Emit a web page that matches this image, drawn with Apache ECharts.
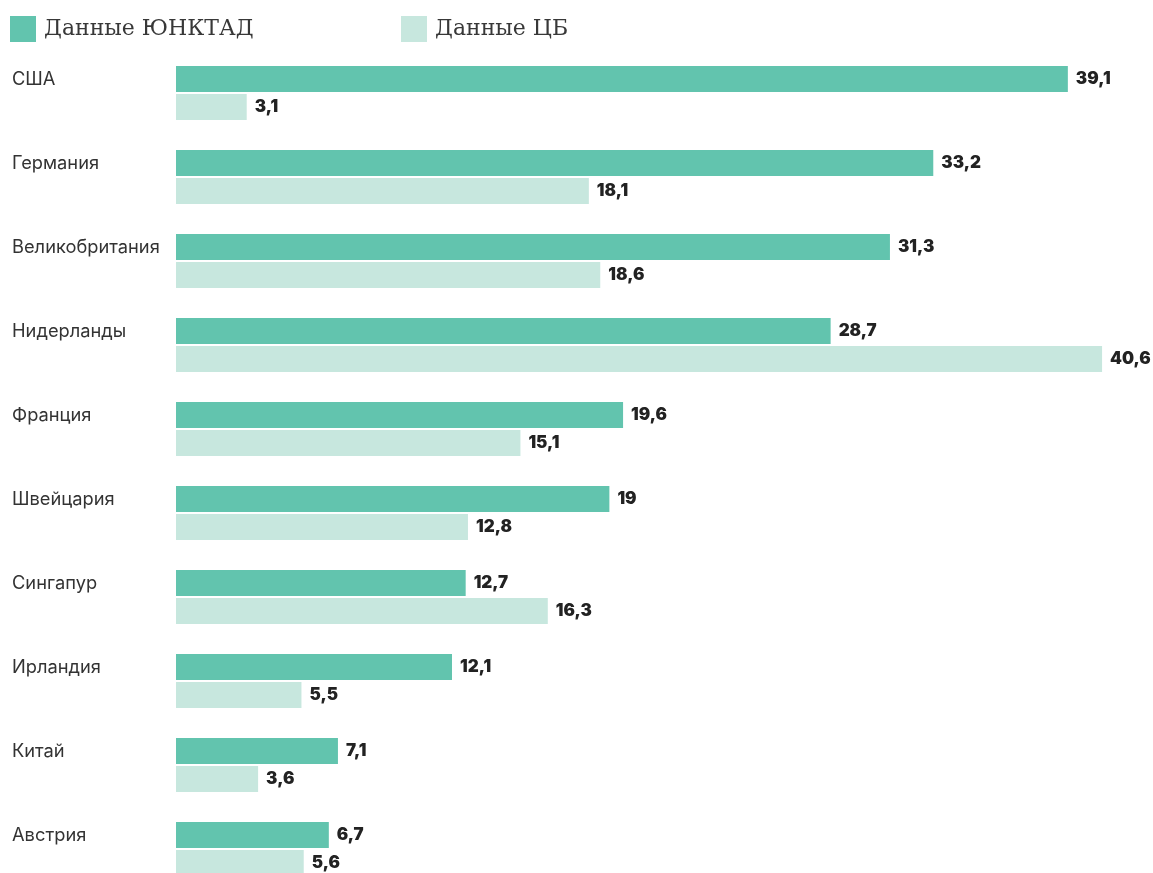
<!DOCTYPE html>
<html>
<head>
<meta charset="utf-8">
<script src="https://cdn.jsdelivr.net/npm/echarts@6/dist/echarts.min.js"></script>
<style>
html,body{margin:0;padding:0;background:#fff;}
#chart{width:1153px;height:873px;}
</style>
</head>
<body>
<div id="chart"></div>
<script>
const categories = ['США','Германия','Великобритания','Нидерланды','Франция','Швейцария','Сингапур','Ирландия','Китай','Австрия'];
const unctadValues = [39.1,33.2,31.3,28.7,19.6,19,12.7,12.1,7.1,6.7];
const cbValues = [3.1,18.1,18.6,40.6,15.1,12.8,16.3,5.5,3.6,5.6];
const seriesNames = ['Данные ЮНКТАД','Данные ЦБ'];

const chart = echarts.init(document.getElementById('chart'));
const valueLabel = {
  show: true,
  position: 'right',
  distance: 8,
  fontFamily: 'Inter',
  fontWeight: 900,
  fontSize: 17,
  color: '#222',
  formatter: p => String(p.value).replace('.', ',')
};
const legendText = {fontFamily: 'DejaVu Serif', fontSize: 22, color: '#383838', padding: [0,0,0,3]};
chart.setOption({
  animation: false,
  legend: [
    {data: [seriesNames[0]], left: 10, top: 16, padding: 0, icon: 'rect', itemWidth: 26, itemHeight: 26, textStyle: legendText},
    {data: [seriesNames[1]], left: 401, top: 16, padding: 0, icon: 'rect', itemWidth: 26, itemHeight: 26, textStyle: legendText}
  ],
  grid: {left: 176, top: 93, width: 958, height: 756, containLabel: false},
  xAxis: {type: 'value', min: 0, max: 42, show: false},
  yAxis: {
    type: 'category',
    data: categories,
    inverse: true,
    boundaryGap: false,
    axisLine: {show: false},
    axisTick: {show: false},
    splitLine: {show: false},
    axisLabel: {
      align: 'left',
      verticalAlign: 'bottom',
      lineHeight: 26,
      margin: 164,
      fontFamily: 'Inter',
      fontSize: 18.3,
      color: '#333'
    }
  },
  series: [
    {name: seriesNames[0], type: 'bar', data: unctadValues, barWidth: 26, barGap: '8%', clip: false, itemStyle: {color: '#62c4ae'}, label: valueLabel},
    {name: seriesNames[1], type: 'bar', data: cbValues, barWidth: 26, barGap: '8%', clip: false, itemStyle: {color: '#c7e7de'}, label: valueLabel}
  ]
});
</script>
</body>
</html>
